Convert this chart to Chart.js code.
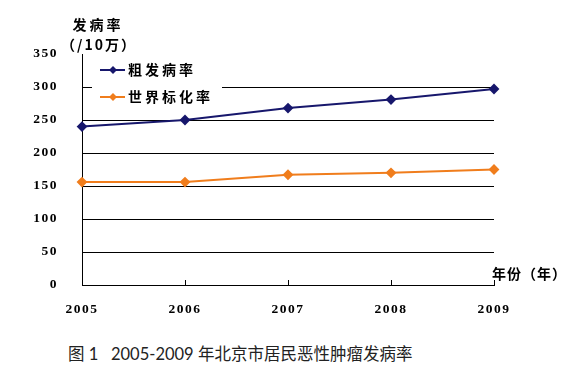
<!DOCTYPE html>
<html>
<head>
<meta charset="utf-8">
<script src="https://cdn.jsdelivr.net/npm/chart.js@4"></script>
<style>
  body { margin: 0; background: #fff; }
  #wrap { position: relative; width: 584px; height: 380px; }
  #caption {
    position: absolute; left: 68px; top: 341px;
    font: 16.5px Lato, "Noto Sans CJK SC", sans-serif; color: #222; white-space: nowrap;
  }
</style>
</head>
<body>
<div id="wrap">
  <canvas id="chart" width="584" height="330"></canvas>
  <div id="caption">图 1&nbsp;&nbsp;&nbsp;2005-2009 年北京市居民恶性肿瘤发病率</div>
</div>
<script>
const years = ['2005', '2006', '2007', '2008', '2009'];
const crudeRate = [240, 250, 268, 281, 297];     // 粗发病率
const standardRate = [156, 156, 167, 170, 175];  // 世界标化率
const seriesNames = ['粗发病率', '世界标化率'];
const yTitle = ['发病率', '（/10万）'];
const xTitle = '年份（年）';

const navy = '#17176c';
const orange = '#f07d1c';
const tickFont = { family: '"Liberation Serif", serif', size: 13.5, weight: 'bold' };

// wider spacing for the tick digits, like the original
const spacing = {
  id: 'spacing',
  beforeLayout(chart) { chart.ctx.letterSpacing = '1.5px'; },
  beforeDraw(chart) { chart.ctx.letterSpacing = '1.5px'; }
};

// axis titles, inward tick marks on x axis and the boxed legend
const decorations = {
  id: 'decorations',
  afterDatasetsDraw(chart) {
    const { ctx, chartArea: a } = chart;
    const x = chart.scales.x;
    ctx.save();

    // small tick marks pointing up from the x axis
    ctx.strokeStyle = '#000';
    ctx.lineWidth = 1;
    for (let i = 1; i < years.length; i++) {
      const px = Math.round(x.getPixelForTick(i)) + 0.5;
      ctx.beginPath();
      ctx.moveTo(px, a.bottom);
      ctx.lineTo(px, a.bottom - 5);
      ctx.stroke();
    }

    // legend box
    ctx.fillStyle = '#fff';
    ctx.fillRect(a.left + 10, a.top + 2, 130, 54);
    ctx.font = 'bold 14px "Noto Sans CJK SC", sans-serif';
    ctx.letterSpacing = '3px';
    ctx.textBaseline = 'middle';
    ctx.textAlign = 'left';
    chart.data.datasets.forEach((ds, i) => {
      const y = a.top + 16 + i * 27;
      ctx.strokeStyle = ds.borderColor;
      ctx.lineWidth = 2;
      ctx.beginPath();
      ctx.moveTo(a.left + 18, y);
      ctx.lineTo(a.left + 43, y);
      ctx.stroke();
      ctx.fillStyle = ds.borderColor;
      ctx.beginPath();
      ctx.moveTo(a.left + 31, y - 4);
      ctx.lineTo(a.left + 35, y);
      ctx.lineTo(a.left + 31, y + 4);
      ctx.lineTo(a.left + 27, y);
      ctx.closePath();
      ctx.fill();
      ctx.fillStyle = '#000';
      ctx.fillText(ds.label, a.left + 46, y);
    });

    // y axis title
    ctx.textAlign = 'center';
    ctx.fillText(yTitle[0], a.left + 16, a.top - 29);
    ctx.letterSpacing = '2px';
    ctx.fillText(yTitle[1], a.left + 17, a.top - 9);

    // x axis title
    ctx.textAlign = 'left';
    ctx.letterSpacing = '1px';
    ctx.fillText(xTitle, a.right - 2, a.bottom - 11);
    ctx.restore();
  }
};

new Chart(document.getElementById('chart').getContext('2d'), {
  type: 'line',
  data: {
    labels: years,
    datasets: [
      {
        label: seriesNames[0],
        data: crudeRate,
        borderColor: navy,
        backgroundColor: navy,
        borderWidth: 2,
        pointStyle: 'rectRot',
        pointRadius: 4,
        fill: false,
        tension: 0
      },
      {
        label: seriesNames[1],
        data: standardRate,
        borderColor: orange,
        backgroundColor: orange,
        borderWidth: 2,
        pointStyle: 'rectRot',
        pointRadius: 4,
        fill: false,
        tension: 0
      }
    ]
  },
  options: {
    responsive: false,
    animation: false,
    layout: { padding: { top: 54, right: 90, left: 0, bottom: 0 } },
    plugins: {
      legend: { display: false },
      tooltip: { enabled: false }
    },
    scales: {
      x: {
        offset: false,
        grid: { display: false, drawTicks: false },
        border: { display: true, color: '#000', width: 1 },
        ticks: { color: '#000', font: tickFont, padding: 16, maxRotation: 0 },
        afterFit(scale) { scale.height = 45; }
      },
      y: {
        min: 0,
        max: 350,
        grid: {
          drawTicks: false,
          lineWidth: 1,
          color: ctx => (ctx.tick && ctx.tick.value === 350 ? 'rgba(0,0,0,0)' : '#000')
        },
        border: { display: true, color: '#000', width: 1 },
        ticks: { stepSize: 50, color: '#000', font: tickFont, padding: 24 },
        afterFit(scale) { scale.width = 82; }
      }
    }
  },
  plugins: [spacing, decorations]
});
</script>
</body>
</html>
